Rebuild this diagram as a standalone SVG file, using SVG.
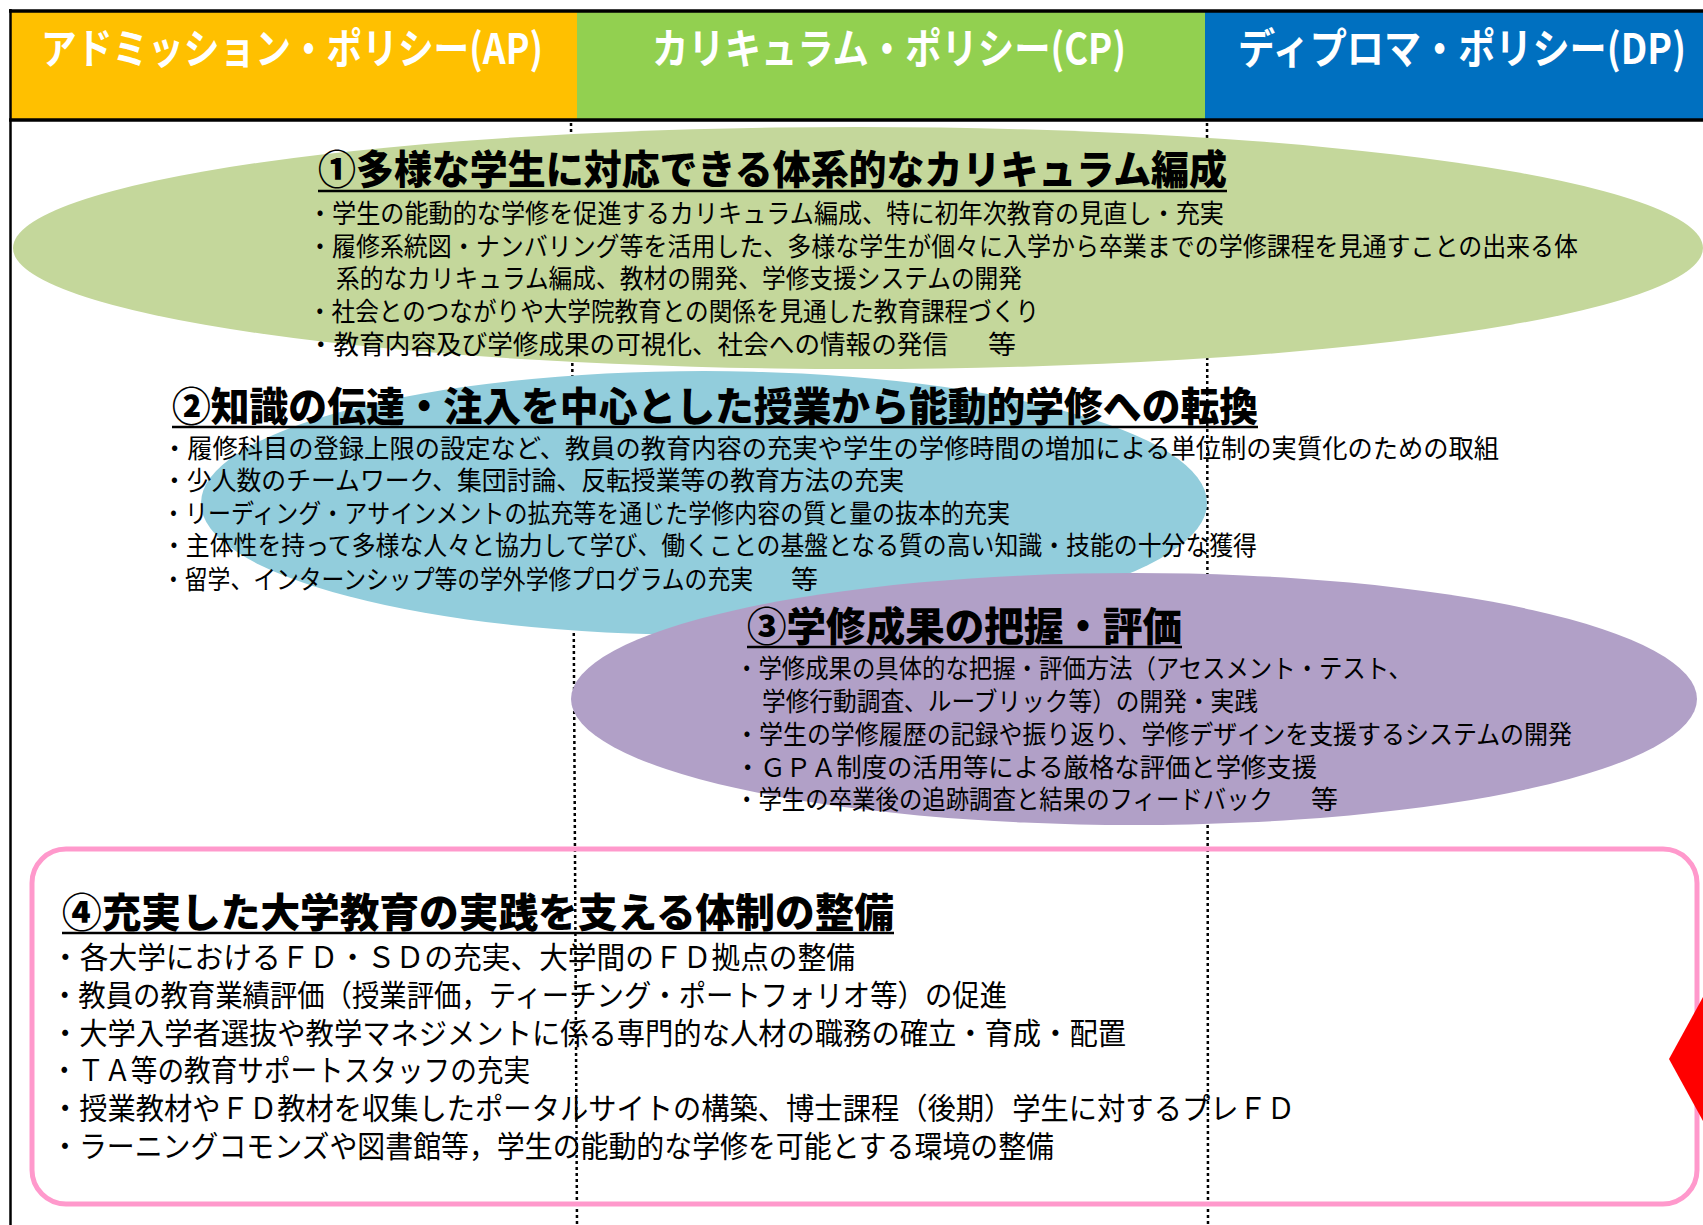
<svg xmlns="http://www.w3.org/2000/svg" width="1703" height="1225" viewBox="0 0 1703 1225">
<style>
.h{font-family:"Noto Sans CJK JP","Noto Sans",sans-serif;font-weight:700;font-size:42px;fill:#fff}
.t{font-family:"Noto Sans CJK JP",sans-serif;font-weight:900;font-size:40px;fill:#000}
.b{font-family:"Noto Sans CJK JP",sans-serif;font-size:26px;fill:#000}
.p{font-family:"Noto Sans CJK JP",sans-serif;font-size:30px;fill:#000}
.ul{stroke:#000;stroke-width:2.5}
.div{stroke:#000;stroke-width:2.5;stroke-dasharray:3 3;fill:none}
</style>
<rect x="0" y="0" width="1703" height="1225" fill="#fff"/>
<g id="header-ap">
<rect x="10" y="11" width="567" height="108" fill="#FFC000"/>
<text class="h" x="41" y="64" textLength="502" lengthAdjust="spacingAndGlyphs">アドミッション・ポリシー(AP)</text>
</g>
<g id="header-cp">
<rect x="577" y="11" width="628" height="108" fill="#92D050"/>
<text class="h" x="652" y="64" textLength="474" lengthAdjust="spacingAndGlyphs">カリキュラム・ポリシー(CP)</text>
</g>
<g id="header-dp">
<rect x="1205" y="11" width="498" height="108" fill="#0070C0"/>
<text class="h" x="1238" y="64" textLength="448" lengthAdjust="spacingAndGlyphs">ディプロマ・ポリシー(DP)</text>
</g>
<g id="frame" fill="none" stroke="#000">
<line x1="9" y1="11" x2="1703" y2="11" stroke-width="3.5"/>
<line x1="9" y1="120" x2="1703" y2="120" stroke-width="3.5"/>
<line x1="10.5" y1="9" x2="10.5" y2="1225" stroke-width="2.5"/>
</g>
<g id="dividers">
<line class="div" x1="571" y1="123" x2="577" y2="1225"/>
<line class="div" x1="1207" y1="123" x2="1208" y2="1225"/>
</g>
<g id="section1">
<ellipse cx="858" cy="248" rx="845" ry="121" fill="#C4D79B"/>
<text class="t" x="318" y="184" textLength="909" lengthAdjust="spacingAndGlyphs">①多様な学生に対応できる体系的なカリキュラム編成</text>
<line class="ul" x1="318" y1="191" x2="1227" y2="191"/>
<text class="b" x="308" y="223" textLength="916" lengthAdjust="spacingAndGlyphs">・学生の能動的な学修を促進するカリキュラム編成、特に初年次教育の見直し・充実</text>
<text class="b" x="308" y="255.5" textLength="1270" lengthAdjust="spacingAndGlyphs">・履修系統図・ナンバリング等を活用した、多様な学生が個々に入学から卒業までの学修課程を見通すことの出来る体</text>
<text class="b" x="336" y="288" textLength="686" lengthAdjust="spacingAndGlyphs">系的なカリキュラム編成、教材の開発、学修支援システムの開発</text>
<text class="b" x="308" y="320.5" textLength="731" lengthAdjust="spacingAndGlyphs">・社会とのつながりや大学院教育との関係を見通した教育課程づくり</text>
<text class="b" x="308" y="354" textLength="640" lengthAdjust="spacingAndGlyphs">・教育内容及び学修成果の可視化、社会への情報の発信</text>
<text class="b" x="988" y="354" textLength="28" lengthAdjust="spacingAndGlyphs">等</text>
</g>
<g id="section2">
<ellipse cx="704" cy="503" rx="503" ry="132" fill="#92CDDC"/>
<text class="t" x="172" y="421" textLength="1086" lengthAdjust="spacingAndGlyphs">②知識の伝達・注入を中心とした授業から能動的学修への転換</text>
<line class="ul" x1="172" y1="427" x2="1258" y2="427"/>
<text class="b" x="162" y="457.5" textLength="1337" lengthAdjust="spacingAndGlyphs">・履修科目の登録上限の設定など、教員の教育内容の充実や学生の学修時間の増加による単位制の実質化のための取組</text>
<text class="b" x="162" y="490" textLength="742" lengthAdjust="spacingAndGlyphs">・少人数のチームワーク、集団討論、反転授業等の教育方法の充実</text>
<text class="b" x="162" y="522.5" textLength="848" lengthAdjust="spacingAndGlyphs">・リーディング・アサインメントの拡充等を通じた学修内容の質と量の抜本的充実</text>
<text class="b" x="162" y="555" textLength="1095" lengthAdjust="spacingAndGlyphs">・主体性を持って多様な人々と協力して学び、働くことの基盤となる質の高い知識・技能の十分な獲得</text>
<text class="b" x="162" y="589" textLength="591" lengthAdjust="spacingAndGlyphs">・留学、インターンシップ等の学外学修プログラムの充実</text>
<text class="b" x="791" y="589" textLength="27" lengthAdjust="spacingAndGlyphs">等</text>
</g>
<g id="section3">
<ellipse cx="1134" cy="699" rx="563" ry="126" fill="#B1A0C7"/>
<text class="t" x="747" y="641" textLength="435" lengthAdjust="spacingAndGlyphs">③学修成果の把握・評価</text>
<line class="ul" x1="747" y1="647" x2="1182" y2="647"/>
<text class="b" x="735" y="678" textLength="677" lengthAdjust="spacingAndGlyphs">・学修成果の具体的な把握・評価方法（アセスメント・テスト、</text>
<text class="b" x="762" y="710.5" textLength="496" lengthAdjust="spacingAndGlyphs">学修行動調査、ルーブリック等）の開発・実践</text>
<text class="b" x="735" y="744" textLength="837" lengthAdjust="spacingAndGlyphs">・学生の学修履歴の記録や振り返り、学修デザインを支援するシステムの開発</text>
<text class="b" x="735" y="777" textLength="582" lengthAdjust="spacingAndGlyphs">・ＧＰＡ制度の活用等による厳格な評価と学修支援</text>
<text class="b" x="735" y="809" textLength="538" lengthAdjust="spacingAndGlyphs">・学生の卒業後の追跡調査と結果のフィードバック</text>
<text class="b" x="1311" y="809" textLength="27" lengthAdjust="spacingAndGlyphs">等</text>
</g>
<g id="section4">
<rect x="32" y="849" width="1665" height="355" rx="34" fill="none" stroke="#FF99CC" stroke-width="5"/>
<text class="t" x="62" y="927" textLength="832" lengthAdjust="spacingAndGlyphs">④充実した大学教育の実践を支える体制の整備</text>
<line class="ul" x1="62" y1="933" x2="894" y2="933"/>
<text class="p" x="51" y="968" textLength="804" lengthAdjust="spacingAndGlyphs">・各大学におけるＦＤ・ＳＤの充実、大学間のＦＤ拠点の整備</text>
<text class="p" x="51" y="1006" textLength="956" lengthAdjust="spacingAndGlyphs">・教員の教育業績評価（授業評価，ティーチング・ポートフォリオ等）の促進</text>
<text class="p" x="51" y="1044" textLength="1075" lengthAdjust="spacingAndGlyphs">・大学入学者選抜や教学マネジメントに係る専門的な人材の職務の確立・育成・配置</text>
<text class="p" x="51" y="1081" textLength="479" lengthAdjust="spacingAndGlyphs">・ＴＡ等の教育サポートスタッフの充実</text>
<text class="p" x="51" y="1119" textLength="1244" lengthAdjust="spacingAndGlyphs">・授業教材やＦＤ教材を収集したポータルサイトの構築、博士課程（後期）学生に対するプレＦＤ</text>
<text class="p" x="51" y="1157" textLength="1003" lengthAdjust="spacingAndGlyphs">・ラーニングコモンズや図書館等，学生の能動的な学修を可能とする環境の整備</text>
</g>
<g id="red-marker">
<polygon points="1669,1059 1703,997 1740,1059 1703,1121" fill="#FF0000"/>
</g>
</svg>
